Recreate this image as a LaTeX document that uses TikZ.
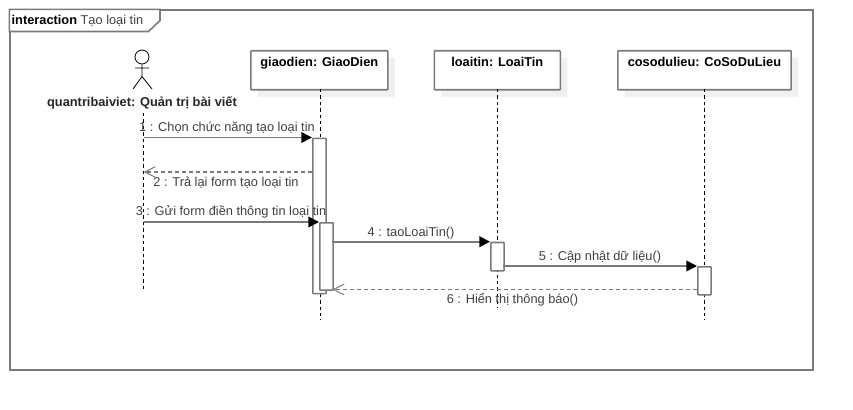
\documentclass[tikz,border=0pt]{standalone}
\usepackage{fontspec}
\setmainfont{Liberation Sans}
\usetikzlibrary{arrows.meta,shadows}
\definecolor{edge}{HTML}{7A7A7A}
\definecolor{txt}{HTML}{404040}
\definecolor{shade}{HTML}{F0F0F0}
\tikzset{
  px/.style={x=0.75pt,y=-0.75pt},
  frameline/.style={draw=edge,line width=1.2pt},
  objbox/.style={draw=edge,line width=1.2pt,fill=white,rounded corners=0.5pt,
    inner sep=0pt,text height=12pt,text depth=17.25pt,text=black,
    font=\fontsize{9.6}{10}\selectfont\bfseries,align=center,anchor=north west,
    copy shadow={shadow xshift=5.25pt,shadow yshift=-5.25pt,fill=shade,draw=none}},
  activation/.style={draw=edge,line width=1.2pt,fill=white,inner sep=0pt,anchor=north west,rounded corners=0.5pt},
  lifeline/.style={draw=black,line width=0.75pt,dash pattern=on 2.6pt off 2.2pt},
  msg/.style={draw=edge,line width=1.2pt,-{Triangle[length=8pt,width=8pt,color=black]}},
  reply/.style={draw=edge,line width=1.2pt,dash pattern=on 3pt off 2.25pt,
    -{Straight Barb[length=8pt,width=8pt,color=edge,line width=0.8pt]}},
  msglabel/.style={text=txt,font=\fontsize{9.6}{10}\selectfont,inner sep=0pt,anchor=base},
  actorline/.style={draw=black,line width=0.6pt},
}
\begin{document}
\begin{tikzpicture}[px]
\useasboundingbox[fill=white] (0,0) rectangle (853,410);
% frame
\node[frameline,anchor=north west,inner sep=0pt,minimum width=602.25pt,minimum height=270pt] (frame) at (9.4,9.4) {};
\draw[frameline,fill=white,line join=miter] (9.4,9.4) -- (160,9.4) -- (160,20.5) -- (148.5,31.5) -- (9.4,31.5) -- cycle;
\node[anchor=base west,inner sep=0pt,text=txt,font=\fontsize{9.6}{10}\selectfont] (title) at (11.4,24.5) {{\color{black}\bfseries interaction} Tạo loại tin};
% actor
\node[actorline,draw,circle,minimum size=10.5pt,inner sep=0pt] (head) at (142,57) {};
\coordinate (hip) at (142,76.5);
\coordinate (armL) at (135,68);
\coordinate (armR) at (149,68);
\coordinate (legL) at (133,89);
\coordinate (legR) at (152,89);
\draw[actorline] (head.south) -- (hip) (armL) -- (armR) (legL) -- (hip) -- (legR);
\node[font=\fontsize{9.6}{10}\selectfont\bfseries,text=black!85,inner sep=0pt,anchor=base] (actor) at (142,107) {quantribaiviet: Quản trị bài viết};
% objects
\node[objbox,minimum width=102.75pt] (gd) at (250,50) {giaodien: GiaoDien};
\node[objbox,minimum width=94.5pt] (lt) at (433.5,50) {loaitin: LoaiTin};
\node[objbox,minimum width=130pt] (db) at (617,50) {cosodulieu: CoSoDuLieu};
% lifelines
\coordinate (actTop) at (143.5,113);
\coordinate (actEnd) at (143.5,291);
\coordinate (gdTop) at (320,89);
\coordinate (gdEnd) at (320,320);
\coordinate (ltTop) at (497.5,89);
\coordinate (ltEnd) at (497.5,307);
\coordinate (dbTop) at (704,89);
\coordinate (dbEnd) at (704,320);
\draw[lifeline] (actTop) -- (actEnd);
\draw[lifeline] (gdTop) -- (gdEnd);
\draw[lifeline] (ltTop) -- (ltEnd);
\draw[lifeline] (dbTop) -- (dbEnd);
% activations
\node[activation,minimum width=10pt,minimum height=116.5pt] (a1) at (312,137.5) {};
\node[activation,minimum width=10pt,minimum height=50.5pt] (a2) at (319,222) {};
\node[activation,minimum width=10pt,minimum height=21.25pt] (a3) at (490,241.7) {};
\node[activation,minimum width=10pt,minimum height=21pt] (a4) at (697,266) {};
% message anchors on the lifelines
\coordinate (m1s) at (143.5,137.5);
\coordinate (m2e) at (143.5,172);
\coordinate (m3s) at (143.5,222);
\coordinate (m2s) at (312,172);
\coordinate (m5s) at (503.3,266);
\coordinate (m6s) at (697,289.5);
\coordinate (m6e) at (332.3,289.5);
\coordinate (m4s) at (332.3,241.7);
% messages
\draw[msg] (m1s) -- (a1.north west);
\draw[reply] (m2s) -- (m2e);
\draw[msg] (m3s) -- (a2.north west);
\draw[msg] (m4s) -- (a3.north west);
\draw[msg] (m5s) -- (a4.north west);
\draw[reply] (m6s) -- (m6e);
% labels
\node[msglabel] (l1) at (227,131) {1 : Chọn chức năng tạo loại tin};
\node[msglabel] (l2) at (226,186) {2 : Trả lại form tạo loại tin};
\node[msglabel] (l3) at (231,215) {3 : Gửi form điền thông tin loại tin};
\node[msglabel] (l4) at (411,236) {4 : taoLoaiTin()};
\node[msglabel] (l5) at (600,260) {5 : Cập nhật dữ liệu()};
\node[msglabel] (l6) at (512.5,303) {6 : Hiển thị thông báo()};
\end{tikzpicture}
\end{document}
